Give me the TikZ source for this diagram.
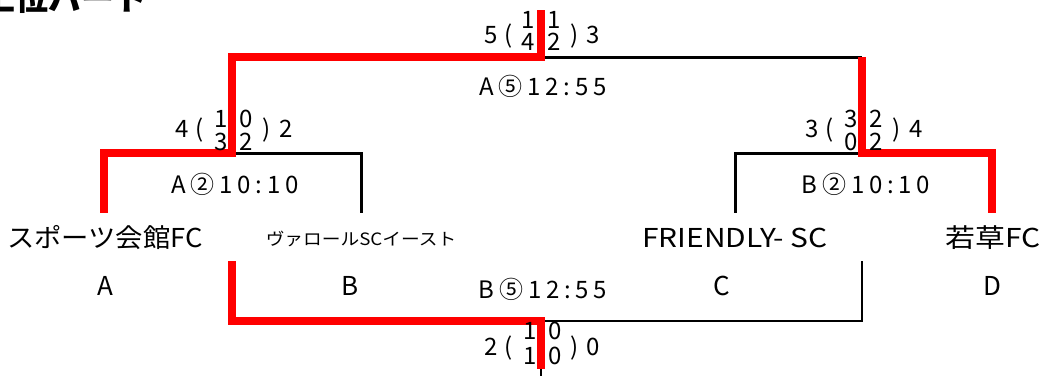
\documentclass[tikz,border=0pt]{standalone}
\usepackage{fontspec}
\setmainfont{Noto Sans CJK JP}
\newfontfamily\jpwide[LetterSpace=20]{Noto Sans CJK JP}
\newfontfamily\teamwide[FakeStretch=1.15]{Noto Sans CJK JP}
\newfontfamily\teammid[FakeStretch=1.05]{Noto Sans CJK JP}
\newfontfamily\teamsmall[FakeStretch=1.1]{Noto Sans CJK JP}
\begin{document}
\begin{tikzpicture}[x=1pt,y=-1pt,
  redln/.style={draw=red, line width=8pt, line join=miter},
  blkln/.style={draw=black, line width=3pt},
  thinln/.style={draw=black, line width=1.2pt},
  sc/.style={anchor=base, inner sep=0pt, font=\fontsize{24}{26}\selectfont},
  game/.style={anchor=base, inner sep=0pt, font=\jpwide\fontsize{24}{26}\selectfont},
  team/.style={anchor=base, inner sep=0pt, font=\teamwide\fontsize{26}{28}\selectfont},
  teamm/.style={anchor=base, inner sep=0pt, font=\teammid\fontsize{26}{28}\selectfont},
  teamsm/.style={anchor=base, inner sep=0pt, font=\teamsmall\fontsize{17}{19}\selectfont},
  lett/.style={anchor=base, inner sep=0pt, font=\fontsize{26}{28}\selectfont},
  ttl/.style={anchor=base west, inner sep=0pt, font=\bfseries\fontsize{33}{35}\selectfont}]
\useasboundingbox (0,0) rectangle (1042,376);
\clip (0,0) rectangle (1042,376);

% title
\node[ttl] (title) at (-18,10) {上位パート};

% junction coordinates
\coordinate (ftop) at (541,10);
\coordinate (f) at (541,57);
\coordinate (fl) at (232,57);
\coordinate (fr) at (862,57);
\coordinate (s1) at (232,153);
\coordinate (s1a) at (104,153);
\coordinate (s1b) at (361,153);
\coordinate (tA) at (104,213);
\coordinate (tB) at (361,213);
\coordinate (s2) at (862,153);
\coordinate (s2c) at (735,153);
\coordinate (s2d) at (992,153);
\coordinate (tC) at (735,213);
\coordinate (tD) at (992,213);
\coordinate (bA) at (232,261);
\coordinate (bAc) at (232,321);
\coordinate (b) at (541,321);
\coordinate (bend) at (541,369);
\coordinate (bbot) at (541,376);
\coordinate (bDc) at (862,321);
\coordinate (bD) at (862,261);

% black lines
\draw[blkln] (f) -- (fr);
\draw[blkln] (s1) -- (s1b) -- (tB);
\draw[blkln] (s2) -- (s2c) -- (tC);
\draw[thinln] (b) -- (bDc) -- (bD);
\draw[thinln] (bend) -- (bbot);

% red lines
\draw[redln] (ftop) -- (f) -- (fl) -- (s1) -- (s1a) -- (tA);
\draw[redln] (fr) -- (s2) -- (s2d) -- (tD);
\draw[redln] (bA) -- (bAc) -- (b) -- (bend);

% game labels
\node[game] (gF) at (543,95) {A⑤12:55};
\node[game] (gS1) at (235,193) {A②10:10};
\node[game] (gS2) at (866,193) {B②10:10};
\node[game] (gB) at (543,298) {B⑤12:55};

% score top
\node[sc] (fs1) at (491,43) {5};
\node[sc] (fs2) at (509,43) {(};
\node[sc] (fs3) at (528,28) {1};
\node[sc] (fs4) at (528,50) {4};
\node[sc] (fs5) at (554,28) {1};
\node[sc] (fs6) at (554,50) {2};
\node[sc] (fs7) at (575,43) {)};
\node[sc] (fs8) at (593,43) {3};

% score left semi
\node[sc] (ls1) at (182,137) {4};
\node[sc] (ls2) at (200,137) {(};
\node[sc] (ls3) at (221,127) {1};
\node[sc] (ls4) at (221,150) {3};
\node[sc] (ls5) at (246,127) {0};
\node[sc] (ls6) at (246,150) {2};
\node[sc] (ls7) at (267,137) {)};
\node[sc] (ls8) at (286,137) {2};

% score right semi
\node[sc] (rs1) at (812,137) {3};
\node[sc] (rs2) at (830,137) {(};
\node[sc] (rs3) at (851,127) {3};
\node[sc] (rs4) at (851,150) {0};
\node[sc] (rs5) at (876,127) {2};
\node[sc] (rs6) at (876,150) {2};
\node[sc] (rs7) at (897,137) {)};
\node[sc] (rs8) at (916,137) {4};

% score bottom
\node[sc] (bs1) at (491,355) {2};
\node[sc] (bs2) at (509,355) {(};
\node[sc] (bs3) at (530,339) {1};
\node[sc] (bs4) at (530,364) {1};
\node[sc] (bs5) at (555,339) {0};
\node[sc] (bs6) at (555,364) {0};
\node[sc] (bs7) at (575,355) {)};
\node[sc] (bs8) at (593,355) {0};

% teams
\node[teamm] (nA) at (105,247) {スポーツ会館FC};
\node[teamsm] (nB) at (361,245) {ヴァロールSCイースト};
\node[team] (nC) at (735,247) {FRIENDLY- SC};
\node[team] (nD) at (993,247) {若草FC};

\node[lett] (lA) at (105,295) {A};
\node[lett] (lB) at (350,295) {B};
\node[lett] (lC) at (722,295) {C};
\node[lett] (lD) at (992,295) {D};
\end{tikzpicture}
\end{document}
